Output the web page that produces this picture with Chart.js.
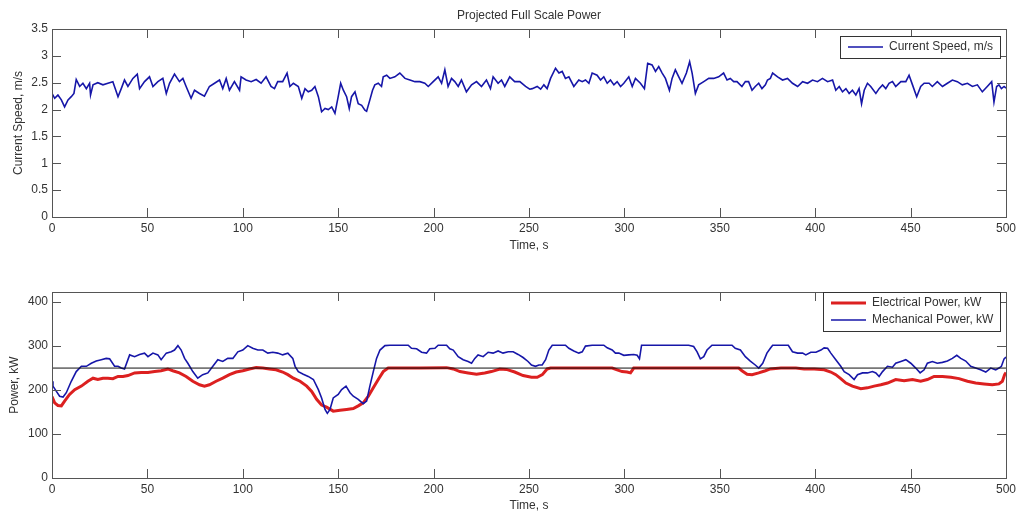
<!DOCTYPE html>
<html>
<head>
<meta charset="utf-8">
<script src="https://cdn.jsdelivr.net/npm/chart.js@4"></script>
<style>
  body { margin: 0; background: #fff; }
  #wrap { position: relative; width: 1020px; height: 513px; }
  #speedChart { position: absolute; left: 0; top: 0; }
  #powerChart { position: absolute; left: 0; top: 256px; }
</style>
</head>
<body>
<div id="wrap">
  <canvas id="speedChart" width="1020" height="256"></canvas>
  <canvas id="powerChart" width="1020" height="257"></canvas>
</div>
<script>
// Current speed, m/s
const speedTime = [0, 1.4, 3.1, 4.9, 6.6, 8.4, 10.1, 11.5, 12.7, 14.5, 16.2, 18.0, 19.7, 20.2, 21.5, 24.0, 26.7, 29.3, 31.9, 34.6,
  36.3, 38.0, 39.8, 42.4, 44.7, 45.9, 48.5, 51.1, 52.9, 55.5, 58.1, 59.9, 61.6, 64.2, 66.8, 68.6, 70.3, 72.9, 74.7, 77.3,
  79.9, 82.5, 85.2, 87.8, 89.5, 91.3, 93.0, 95.6, 98.3, 99.1, 101.7, 104.4, 107.0, 109.6, 112.2, 114.8, 116.6, 118.3, 120.9, 123.2,
  124.7, 126.5, 129.1, 130.9, 132.6, 134.3, 136.1, 137.8, 139.6, 141.3, 143.1, 144.8, 146.6, 148.3, 150.0, 151.3, 152.7, 154.4, 155.8, 157.0,
  158.8, 160.5, 162.3, 164.0, 164.9, 166.6, 168.0, 169.2, 171.0, 172.7, 173.6, 175.4, 177.1, 179.7, 182.3, 185.0, 187.6, 190.2, 192.8, 195.4,
  197.2, 199.8, 202.4, 204.2, 205.9, 207.6, 209.4, 211.1, 212.9, 214.6, 217.2, 219.9, 222.5, 225.1, 227.7, 229.8, 231.2, 233.8, 235.6, 237.3,
  239.9, 242.5, 245.2, 248.2, 250.4, 251.7, 254.3, 256.1, 257.8, 259.5, 261.3, 263.9, 265.7, 267.4, 269.1, 270.9, 273.5, 276.1, 277.9, 279.6,
  281.4, 283.1, 285.7, 287.5, 289.2, 291.0, 292.7, 294.5, 296.2, 298.0, 299.7, 302.3, 304.1, 305.8, 308.4, 310.5, 312.2, 314.5, 316.3, 318.0,
  319.8, 321.5, 323.6, 325.0, 326.7, 328.5, 330.2, 332.5, 334.2, 335.5, 337.2, 338.9, 341.6, 344.2, 346.8, 349.4, 352.0, 353.8, 355.5, 357.3,
  359.0, 361.6, 363.4, 365.1, 366.9, 368.6, 370.4, 372.1, 373.9, 375.0, 376.5, 377.7, 380.3, 382.9, 385.5, 388.1, 390.8, 393.4, 396.0, 398.6,
  401.2, 403.8, 406.5, 409.1, 410.8, 412.6, 414.3, 416.1, 417.8, 419.5, 421.3, 423.0, 424.3, 425.7, 427.4, 429.1, 431.8, 433.5, 435.3, 437.0,
  438.7, 440.5, 442.2, 444.9, 447.5, 449.2, 451.0, 453.2, 455.3, 457.1, 459.7, 461.4, 464.0, 466.7, 469.3, 471.9, 474.5, 477.1, 479.8, 482.4,
  485.0, 487.6, 490.2, 492.5, 493.7, 495.1, 496.3, 497.6, 499.0, 500];
const speedValue = [2.30, 2.21, 2.27, 2.18, 2.05, 2.18, 2.24, 2.30, 2.56, 2.43, 2.49, 2.39, 2.49, 2.27, 2.46, 2.50, 2.46, 2.49, 2.52, 2.24,
  2.39, 2.55, 2.43, 2.58, 2.66, 2.39, 2.52, 2.61, 2.43, 2.52, 2.58, 2.30, 2.49, 2.66, 2.52, 2.58, 2.43, 2.21, 2.36, 2.30,
  2.25, 2.43, 2.49, 2.55, 2.39, 2.58, 2.36, 2.52, 2.36, 2.61, 2.55, 2.52, 2.56, 2.49, 2.61, 2.43, 2.39, 2.52, 2.52, 2.68,
  2.43, 2.49, 2.43, 2.21, 2.39, 2.33, 2.36, 2.43, 2.24, 1.96, 2.02, 2.00, 2.05, 1.93, 2.24, 2.49, 2.36, 2.24, 2.02, 2.24,
  2.33, 2.11, 2.08, 1.99, 1.97, 2.18, 2.36, 2.46, 2.49, 2.43, 2.61, 2.64, 2.58, 2.61, 2.68, 2.58, 2.55, 2.52, 2.52, 2.49,
  2.43, 2.52, 2.61, 2.49, 2.74, 2.43, 2.58, 2.52, 2.43, 2.55, 2.33, 2.46, 2.52, 2.43, 2.55, 2.39, 2.61, 2.49, 2.55, 2.43,
  2.61, 2.52, 2.52, 2.43, 2.38, 2.39, 2.43, 2.38, 2.46, 2.39, 2.58, 2.77, 2.68, 2.71, 2.58, 2.61, 2.43, 2.55, 2.52, 2.55,
  2.49, 2.68, 2.64, 2.55, 2.61, 2.49, 2.55, 2.46, 2.52, 2.43, 2.49, 2.61, 2.43, 2.58, 2.49, 2.39, 2.86, 2.83, 2.71, 2.80,
  2.68, 2.58, 2.36, 2.58, 2.74, 2.61, 2.49, 2.68, 2.89, 2.68, 2.30, 2.46, 2.52, 2.58, 2.58, 2.61, 2.68, 2.55, 2.58, 2.52,
  2.52, 2.43, 2.52, 2.52, 2.36, 2.43, 2.49, 2.39, 2.46, 2.55, 2.58, 2.68, 2.61, 2.55, 2.58, 2.49, 2.43, 2.52, 2.49, 2.55,
  2.52, 2.58, 2.52, 2.55, 2.36, 2.43, 2.33, 2.39, 2.30, 2.36, 2.27, 2.39, 2.11, 2.36, 2.49, 2.43, 2.30, 2.39, 2.46, 2.39,
  2.49, 2.52, 2.43, 2.52, 2.52, 2.64, 2.46, 2.24, 2.43, 2.49, 2.49, 2.43, 2.52, 2.43, 2.49, 2.55, 2.52, 2.46, 2.49, 2.43,
  2.46, 2.33, 2.43, 2.52, 2.14, 2.43, 2.46, 2.39, 2.43, 2.40];

// Mechanical power, kW (blue, bottom panel)
const mechTime = [0, 0.5, 2.3, 4.0, 5.8, 7.5, 10.1, 12.7, 15.4, 18.0, 20.6, 23.2, 25.8, 28.4, 30.2, 32.8, 34.6, 36.3, 38.0, 40.7,
  43.3, 45.9, 48.5, 50.3, 52.9, 55.5, 57.2, 59.9, 62.5, 64.2, 66.0, 67.7, 69.5, 71.2, 73.8, 76.4, 79.0, 81.7, 84.3, 86.9,
  89.5, 92.1, 94.8, 97.4, 100.0, 102.6, 105.2, 107.9, 110.5, 113.1, 115.7, 118.3, 120.9, 123.6, 126.2, 127.4, 129.1, 131.7, 134.3, 137.0,
  139.6, 141.3, 143.1, 144.3, 145.7, 147.4, 150.0, 151.8, 154.1, 156.2, 157.9, 160.5, 163.1, 164.9, 166.6, 168.4, 170.1, 171.9, 174.5, 177.1,
  180.6, 184.1, 186.7, 188.4, 191.1, 193.7, 196.3, 198.0, 200.7, 202.4, 205.0, 206.8, 208.5, 210.3, 212.9, 215.5, 218.1, 219.9, 221.6, 223.3,
  226.0, 228.6, 231.2, 233.8, 236.4, 239.1, 241.7, 244.3, 246.9, 249.5, 251.3, 253.4, 255.2, 256.9, 258.7, 260.4, 262.2, 265.7, 269.1, 270.9,
  273.5, 276.1, 277.9, 279.6, 283.1, 286.6, 289.2, 291.0, 293.6, 295.3, 297.1, 299.7, 302.3, 304.9, 306.7, 307.9, 309.0, 312.8, 318.0, 326.7,
  333.7, 336.3, 338.1, 339.8, 341.6, 343.3, 345.9, 351.2, 356.4, 358.1, 360.8, 363.4, 366.0, 368.6, 370.4, 372.5, 374.7, 376.5, 377.7, 382.0,
  385.9, 388.1, 390.8, 393.4, 395.1, 397.7, 400.4, 403.0, 404.7, 406.5, 408.2, 410.8, 413.4, 415.2, 417.8, 420.4, 422.2, 424.8, 427.4, 430.0,
  431.8, 433.5, 435.3, 437.9, 440.5, 442.2, 444.9, 447.5, 450.1, 452.7, 455.0, 457.1, 458.8, 461.4, 464.0, 466.7, 469.3, 471.9, 474.2, 476.3,
  478.9, 481.5, 484.1, 486.7, 489.4, 492.0, 494.6, 496.3, 497.6, 499.0, 500];
const mechPower = [220, 209, 197, 186, 184, 194, 220, 242, 254, 254, 261, 266, 269, 272, 271, 254, 254, 250, 248, 280,
  276, 281, 284, 276, 284, 280, 269, 284, 287, 291, 301, 291, 272, 261, 242, 227, 235, 239, 254, 269,
  265, 272, 272, 287, 291, 301, 295, 291, 291, 284, 286, 284, 280, 284, 272, 254, 242, 236, 231, 224,
  201, 182, 156, 147, 156, 182, 190, 201, 209, 194, 186, 179, 169, 175, 209, 242, 272, 291, 301, 302,
  302, 302, 302, 295, 294, 286, 284, 294, 295, 302, 302, 302, 294, 291, 276, 269, 265, 261, 272, 280,
  276, 286, 284, 289, 284, 287, 287, 281, 274, 265, 257, 254, 257, 257, 269, 291, 302, 302, 302, 295,
  289, 284, 287, 300, 302, 302, 302, 296, 291, 284, 284, 279, 280, 281, 279, 271, 302, 302, 302, 302,
  302, 299, 287, 271, 276, 291, 302, 302, 302, 295, 291, 276, 266, 257, 250, 261, 284, 295, 302, 302,
  302, 287, 284, 284, 280, 286, 286, 291, 296, 295, 284, 269, 254, 242, 235, 224, 235, 239, 239, 242,
  239, 231, 242, 254, 252, 261, 265, 269, 261, 250, 239, 246, 261, 265, 261, 263, 266, 272, 279, 272,
  266, 254, 250, 246, 241, 250, 246, 250, 254, 271, 275];

// Electrical power, kW (red, bottom panel)
const elecTime = [0, 1.4, 3.1, 4.9, 6.6, 9.2, 11.9, 15.4, 18.8, 21.5, 24.0, 26.7, 29.3, 31.9, 34.6, 37.2, 39.8, 43.3, 46.8, 50.3,
  53.8, 57.2, 60.7, 63.3, 66.8, 70.3, 73.8, 77.3, 79.9, 82.5, 86.0, 89.5, 93.0, 96.5, 100.0, 103.5, 107.0, 110.5, 114.0, 117.4,
  120.9, 123.6, 126.5, 130.0, 133.5, 136.1, 138.7, 141.3, 143.9, 147.4, 150.9, 154.4, 157.9, 160.5, 163.1, 165.8, 168.4, 171.0, 173.6, 176.2,
  184.1, 192.8, 206.8, 210.3, 213.8, 218.1, 222.5, 226.8, 230.3, 234.7, 238.2, 242.5, 246.9, 251.3, 254.3, 257.0, 259.5, 261.3, 293.6, 296.2,
  298.8, 301.4, 303.2, 304.9, 359.9, 361.6, 364.3, 366.9, 370.4, 373.9, 376.5, 382.0, 389.9, 394.2, 399.5, 404.7, 408.2, 410.8, 413.4, 416.1,
  419.5, 423.9, 427.4, 430.9, 434.4, 437.9, 442.2, 446.6, 451.0, 455.3, 458.8, 462.3, 466.7, 471.1, 475.4, 479.8, 484.1, 488.5, 492.8, 496.3,
  498.1, 499.3, 500];
const elecPower = [185, 171, 165, 164, 175, 190, 201, 209, 220, 227, 224, 227, 227, 226, 231, 231, 233, 239, 240, 240,
  242, 244, 248, 244, 239, 231, 220, 212, 209, 212, 220, 227, 235, 241, 244, 248, 251, 250, 248, 246,
  241, 235, 227, 220, 209, 197, 179, 166, 161, 152, 154, 156, 158, 164, 171, 186, 205, 224, 242, 250,
  250, 250, 251, 248, 242, 239, 236, 239, 242, 248, 247, 241, 233, 229, 229, 235, 248, 250, 250, 246,
  242, 241, 239, 250, 250, 244, 236, 235, 239, 244, 248, 250, 250, 248, 248, 246, 241, 235, 226, 216,
  209, 203, 205, 209, 212, 216, 224, 221, 224, 220, 224, 231, 231, 229, 226, 220, 216, 214, 212, 214,
  220, 235, 240];

const ratedPower = 250;
const timeRange = [0, 500];

const FONT = '"Liberation Sans", Arial, sans-serif';
const TEXT = '#333';
const BLUE = '#1616a8';
const RED = '#dc2020';

function toPoints(ts, vs) {
  return ts.map((t, i) => ({ x: t, y: vs[i] }));
}

// Matlab-like frame: box, inward ticks on all sides, title, boxed legend
const matlabFrame = {
  id: 'matlabFrame',
  afterDatasetsDraw(chart, args, opts) {
    const { ctx, chartArea: a, scales: { x, y } } = chart;
    ctx.save();
    ctx.strokeStyle = '#555';
    ctx.lineWidth = 1;
    ctx.beginPath();
    x.ticks.forEach(t => {
      const px = Math.round(x.getPixelForValue(t.value)) + 0.5;
      ctx.moveTo(px, a.bottom); ctx.lineTo(px, a.bottom - 9);
      ctx.moveTo(px, a.top); ctx.lineTo(px, a.top + 9);
    });
    y.ticks.forEach(t => {
      const py = Math.round(y.getPixelForValue(t.value)) + 0.5;
      ctx.moveTo(a.left, py); ctx.lineTo(a.left + 9, py);
      ctx.moveTo(a.right, py); ctx.lineTo(a.right - 9, py);
    });
    ctx.stroke();
    ctx.strokeRect(Math.round(a.left) + 0.5, Math.round(a.top) + 0.5,
      Math.round(a.right - a.left), Math.round(a.bottom - a.top));

    if (opts.title) {
      ctx.font = '12px ' + FONT;
      ctx.fillStyle = TEXT;
      ctx.textAlign = 'center';
      ctx.textBaseline = 'middle';
      ctx.fillText(opts.title, (a.left + a.right) / 2, opts.titleY);
    }

    // legend
    const entries = chart.data.datasets.filter(d => d.label);
    ctx.font = '12px ' + FONT;
    const textW = Math.max(...entries.map(d => ctx.measureText(d.label).width));
    const w = 8 + 35 + 6 + textW + 7;
    const h = entries.length * 17 + 5;
    const right = Math.round(a.right) - 6;
    const left = Math.round(right - w);
    const top = Math.round(a.top) + opts.legendTop;
    ctx.fillStyle = '#fff';
    ctx.fillRect(left, top, right - left, h);
    ctx.strokeStyle = '#333';
    ctx.strokeRect(left + 0.5, top + 0.5, right - left, h);
    entries.forEach((d, i) => {
      const cy = top + 11 + i * 17;
      ctx.strokeStyle = d.borderColor;
      ctx.lineWidth = d.borderWidth;
      ctx.beginPath();
      ctx.moveTo(left + 8, cy); ctx.lineTo(left + 43, cy);
      ctx.stroke();
      ctx.fillStyle = TEXT;
      ctx.textAlign = 'left';
      ctx.textBaseline = 'middle';
      ctx.fillText(d.label, left + 49, cy);
    });
    ctx.restore();
  }
};

function makeOptions(cfg) {
  return {
    responsive: false,
    animation: false,
    events: [],
    layout: { padding: { top: cfg.padTop, right: 13, left: 0, bottom: 0 } },
    elements: { point: { radius: 0 }, line: { tension: 0 } },
    plugins: {
      legend: { display: false },
      tooltip: { enabled: false },
      matlabFrame: cfg.frame
    },
    scales: {
      x: {
        type: 'linear',
        min: timeRange[0],
        max: timeRange[1],
        afterFit: s => { s.height = cfg.xHeight; },
        grid: { display: false, drawTicks: false },
        border: { display: false },
        ticks: { stepSize: 50, padding: 4, maxRotation: 0, color: TEXT, font: { family: FONT, size: 12 },
          callback: v => String(v) },
        title: { display: true, text: 'Time, s', color: TEXT, font: { family: FONT, size: 12 },
          padding: { top: 0, bottom: cfg.xTitlePad } }
      },
      y: {
        min: cfg.yMin,
        max: cfg.yMax,
        afterFit: s => { s.width = 52; },
        grid: { display: false, drawTicks: false },
        border: { display: false },
        ticks: { stepSize: cfg.yStep, includeBounds: false, padding: 4, color: TEXT, font: { family: FONT, size: 12 },
          callback: v => String(v) },
        title: { display: true, text: cfg.yTitle, color: TEXT, font: { family: FONT, size: 12 },
          padding: { top: cfg.yTitlePad, bottom: 0 } }
      }
    }
  };
}

new Chart(document.getElementById('speedChart'), {
  type: 'line',
  data: {
    datasets: [{
      label: 'Current Speed, m/s',
      data: toPoints(speedTime, speedValue),
      borderColor: BLUE,
      borderWidth: 1.6
    }]
  },
  options: makeOptions({
    padTop: 29, xHeight: 39, xTitlePad: 3,
    yMin: 0, yMax: 3.5, yStep: 0.5, yTitle: 'Current Speed, m/s', yTitlePad: 11,
    frame: { title: 'Projected Full Scale Power', titleY: 16, legendTop: 7 }
  }),
  plugins: [matlabFrame]
});

new Chart(document.getElementById('powerChart'), {
  type: 'line',
  data: {
    datasets: [{
      label: 'Electrical Power, kW',
      data: toPoints(elecTime, elecPower),
      borderColor: RED,
      borderWidth: 3,
      order: 2
    }, {
      label: 'Mechanical Power, kW',
      data: toPoints(mechTime, mechPower),
      borderColor: BLUE,
      borderWidth: 1.6,
      order: 1
    }, {
      label: '',
      data: [{ x: timeRange[0], y: ratedPower }, { x: timeRange[1], y: ratedPower }],
      borderColor: '#111',
      borderWidth: 1,
      order: 0
    }]
  },
  options: makeOptions({
    padTop: 36, xHeight: 35, xTitlePad: 0,
    yMin: 0, yMax: 423, yStep: 100, yTitle: 'Power, kW', yTitlePad: 7,
    frame: { legendTop: 0 }
  }),
  plugins: [matlabFrame]
});
</script>
</body>
</html>
